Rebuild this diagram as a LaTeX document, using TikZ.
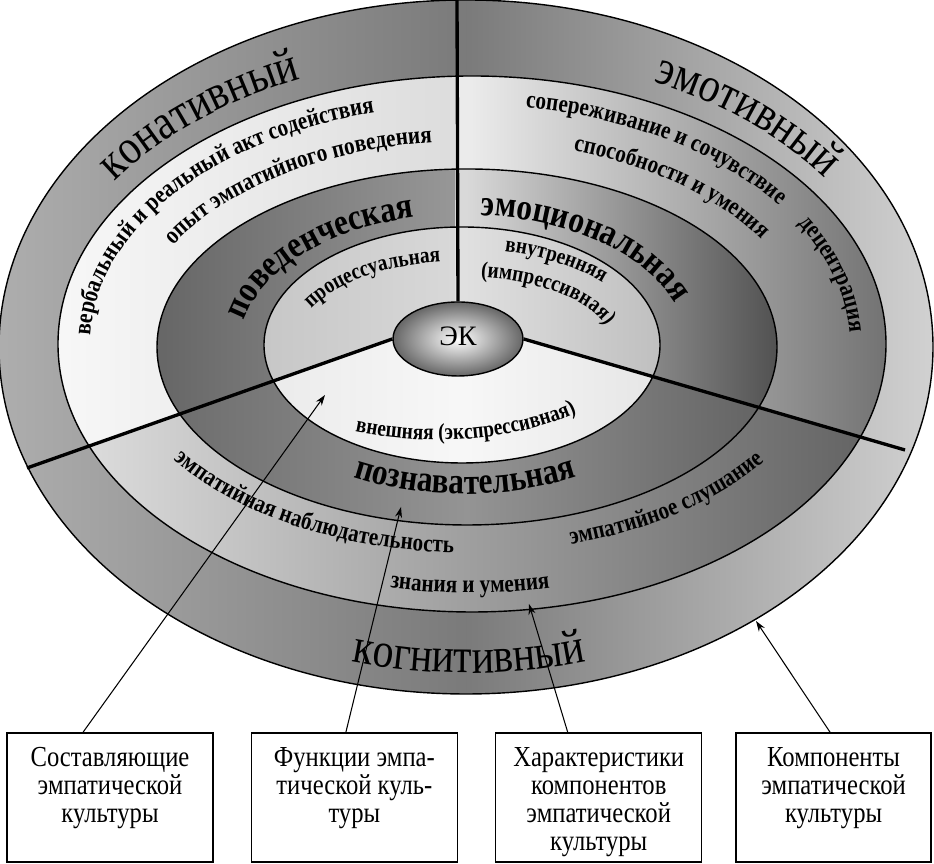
\documentclass[tikz,border=0pt]{standalone}
\usepackage{fontspec}
\setmainfont{Liberation Serif}
\newfontfamily\narrowserif[FakeStretch=0.85]{Liberation Serif}
\usetikzlibrary{arrows.meta,positioning,decorations.text,shapes.geometric}

\newcommand\outerfont{\narrowserif\fontsize{28pt}{32pt}\selectfont}
\newcommand\midfont{\narrowserif\bfseries\fontsize{21pt}{24pt}\selectfont}
\newcommand\trackfont{\narrowserif\bfseries\fontsize{14.2pt}{17pt}\selectfont}
\newcommand\innerfont{\narrowserif\bfseries\fontsize{13pt}{15pt}\selectfont}
\newcommand\boxfont{\narrowserif\fontsize{16.5pt}{16pt}\selectfont}

\begin{document}
\begin{tikzpicture}[x=0.02cm, y=0.02cm,
  ring/.style={line width=0.8pt},
  divider/.style={line width=1.9pt},
  arctext/.style={decorate, decoration={text along path, text align=center, text={#1}}},
  infobox/.style={draw, line width=0.8pt, fill=white, minimum width=4.12cm, minimum height=2.58cm, inner sep=0pt},
  pointer/.style={-{Stealth[length=6pt, width=4pt]}, line width=0.6pt}]
\useasboundingbox (0,0) rectangle (934,864);

% rings
\shade[left color=black!32, right color=black!18, middle color=black!52] (466,517) ellipse[x radius=467, y radius=347];
\begin{scope}
\clip (455,900) -- (-50,900) -- (-50,369) -- (392,526) -- (455,562) -- cycle;
\shade[left color=black!3, right color=black!25] (472,520) ellipse[x radius=414, y radius=268];
\shade[left color=black!60, right color=black!20] (467,517) ellipse[x radius=310, y radius=178];
\shade[left color=black!22, right color=black!8] (462,519) ellipse[x radius=198, y radius=118];
\end{scope}
\begin{scope}
\clip (455,900) -- (990,900) -- (990,389) -- (523,524) -- (455,562) -- cycle;
\shade[left color=black!5, right color=black!55, middle color=black!8] (472,520) ellipse[x radius=414, y radius=268];
\shade[left color=black!15, right color=black!68, middle color=black!15] (467,517) ellipse[x radius=310, y radius=178];
\shade[left color=black!10, right color=black!25, middle color=black!12] (462,519) ellipse[x radius=198, y radius=118];
\end{scope}
\begin{scope}
\clip (-50,369) -- (-50,-50) -- (990,-50) -- (990,389) -- (523,524) -- (458,525) -- (392,526) -- cycle;
\shade[left color=black!12, right color=black!62, middle color=black!38] (472,520) ellipse[x radius=414, y radius=268];
\shade[left color=black!58, right color=black!62, middle color=black!42] (467,517) ellipse[x radius=310, y radius=178];
\shade[left color=black!8, right color=black!10, middle color=black!3] (462,519) ellipse[x radius=198, y radius=118];
\end{scope}
\draw[ring] (466,517) ellipse[x radius=467, y radius=347];
\draw[ring] (472,520) ellipse[x radius=414, y radius=268];
\draw[ring] (467,517) ellipse[x radius=310, y radius=178];
\draw[ring] (462,519) ellipse[x radius=198, y radius=118];

% centre and dividers
\node[ellipse, draw, ring, minimum width=2.6cm, minimum height=1.48cm, inner sep=0pt,
  shading=radial, inner color=white, outer color=black!60, font=\fontsize{16pt}{18pt}\selectfont] (ek) at (458,525) {\raisebox{0.12cm}{ЭК}};
\coordinate (topend) at (457,866);
\coordinate (leftend) at (27,396);
\coordinate (rightend) at (905,414);
\draw[divider] (ek.north) -- (topend);
\draw[divider] (ek.west) -- (leftend);
\draw[divider] (ek.east) -- (rightend);

% outer ring
\path[arctext={|\outerfont|конативный}] (469,518) ++(161:430 and 290) arc[start angle=161, end angle=101, x radius=430, y radius=290];
\path[arctext={|\outerfont|эмотивный}] (469,518) ++(78:435 and 292) arc[start angle=78, end angle=18, x radius=435, y radius=292];
\path[arctext={|\outerfont|когнитивный}] (469,518) ++(240:445 and 327) arc[start angle=240, end angle=300, x radius=445, y radius=327];

% second ring
\path[arctext={|\trackfont|вербальный и реальный акт содействия}] (470,519) ++(188:380 and 240) arc[start angle=188, end angle=98, x radius=380, y radius=240];
\path[arctext={|\trackfont|опыт эмпатийного поведения}] (470,519) ++(160:340 and 204) arc[start angle=160, end angle=90, x radius=340, y radius=204];
\path[arctext={|\trackfont|сопереживание и сочувствие}] (470,519) ++(95:380 and 240) arc[start angle=95, end angle=17, x radius=380, y radius=240];
\path[arctext={|\trackfont|способности и умения}] (470,519) ++(84:340 and 204) arc[start angle=84, end angle=14, x radius=340, y radius=204];
\path[arctext={|\trackfont|децентрация}] (470,519) ++(36:380 and 240) arc[start angle=36, end angle=-4, x radius=380, y radius=240];
\path[arctext={|\trackfont|эмпатийная наблюдательность}] (470,519) ++(201:355 and 208) arc[start angle=201, end angle=276, x radius=355, y radius=208];
\path[arctext={|\trackfont|эмпатийное слушание}] (470,519) ++(278:355 and 208) arc[start angle=278, end angle=338, x radius=355, y radius=208];
\path[arctext={|\trackfont|знания и умения}] (470,519) ++(250:390 and 248) arc[start angle=250, end angle=290, x radius=390, y radius=248];

% third ring
\path[arctext={|\midfont|поведенческая}] (465,518) ++(184:225 and 132) arc[start angle=184, end angle=94, x radius=225, y radius=132];
\path[arctext={|\midfont|эмоциональная}] (465,518) ++(91:222 and 131) arc[start angle=91, end angle=11, x radius=222, y radius=131];
\path[arctext={|\midfont|познавательная}] (465,518) ++(236:240 and 148) arc[start angle=236, end angle=304, x radius=240, y radius=148];

% inner ring
\path[arctext={|\innerfont|процессуальная}] (462,519) ++(160:167 and 84) arc[start angle=160, end angle=94, x radius=167, y radius=84];
\path[arctext={|\innerfont|внутренняя}] (462,519) ++(80:185 and 96) arc[start angle=80, end angle=36, x radius=185, y radius=96];
\path[arctext={|\innerfont|(импрессивная)}] (462,519) ++(84:150 and 68) arc[start angle=84, end angle=14, x radius=150, y radius=68];
\path[arctext={|\innerfont|внешняя (экспрессивная)}] (436,519) ++(241:200 and 95) arc[start angle=241, end angle=321, x radius=200, y radius=95];

% boxes
\node[infobox] (b1) at (110,66.5) {\parbox[c][2cm][t]{3.9cm}{\centering\boxfont Составляющие\\эмпатической\\культуры}};
\node[infobox, right=0.74cm of b1] (b2) {\parbox[c][2cm][t]{3.9cm}{\centering\boxfont Функции эмпа-\\тической куль-\\туры}};
\node[infobox, right=0.74cm of b2] (b3) {\parbox[c][2cm][t]{3.9cm}{\centering\boxfont Характеристики\\компонентов\\эмпатической\\культуры}};
\node[infobox, minimum width=3.9cm, right=0.66cm of b3] (b4) {\parbox[c][2cm][t]{3.7cm}{\centering\boxfont Компоненты\\эмпатической\\культуры}};

% pointers
\coordinate (tipA) at (325,469);
\coordinate (tipB) at (401,357);
\coordinate (tipC) at (529,260);
\coordinate (tipD) at (756,243);
\draw[pointer] ([xshift=-0.54cm]b1.north) -- (tipA);
\draw[pointer] ([xshift=-0.17cm]b2.north) -- (tipB);
\draw[pointer] ([xshift=-0.62cm]b3.north) -- (tipC);
\draw[pointer] ([xshift=-0.07cm]b4.north) -- (tipD);
\end{tikzpicture}
\end{document}
